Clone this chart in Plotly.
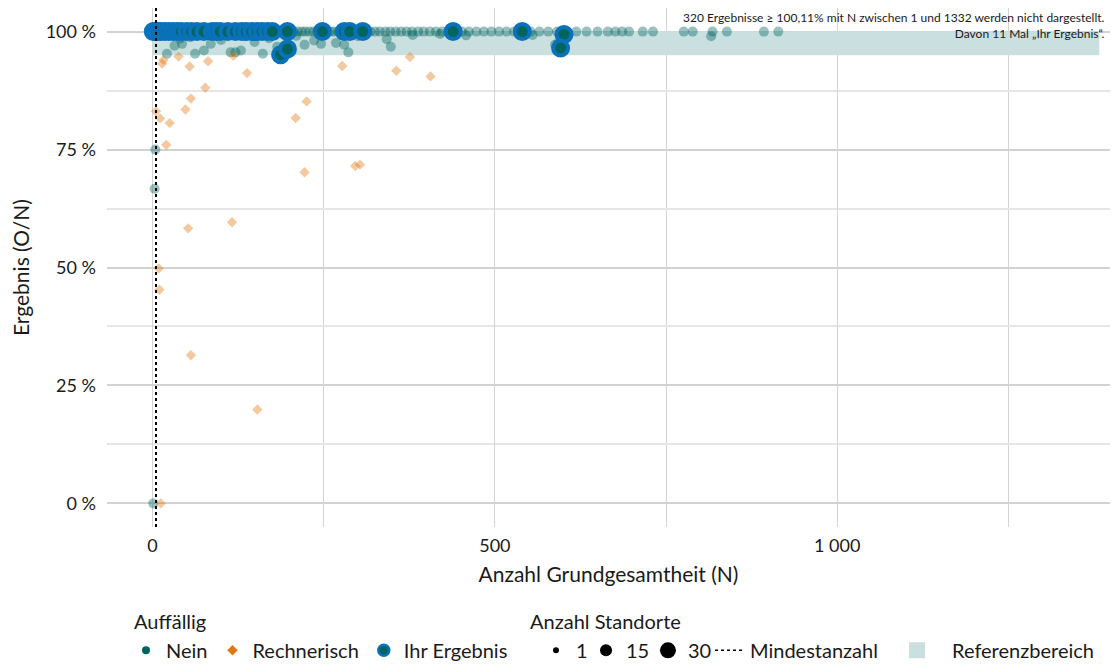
import plotly.graph_objects as go

# --- data -------------------------------------------------------------
# Standorte ohne Auffälligkeit, Ergebnis = 100 %
nein_top_n = [0, 1, 2, 3, 4, 5, 6, 8, 9, 11, 13, 14, 16, 18, 20, 22, 25, 27, 30,
              33, 35, 38, 41, 44, 47, 50, 53, 56, 60, 63, 66, 70, 73, 77, 80, 84,
              88, 91, 95, 99, 103, 107, 111, 115, 119, 124, 128, 133, 137, 142,
              146, 151, 156, 160, 165, 170, 175, 180, 185, 190, 196, 201, 206,
              212, 218, 223, 229, 235, 241, 247, 253, 259, 265, 271, 278, 284,
              291, 297, 304, 311, 318, 325, 332, 340, 347, 355, 363, 371, 379,
              388, 396, 405, 414, 423, 432, 441, 452, 462, 473, 484, 495, 506,
              517, 528, 540, 552, 565, 578, 591, 605, 619, 634, 650, 665, 676,
              686, 696, 716, 731, 776, 789, 818, 839, 893, 914]

# Standorte ohne Auffälligkeit, Ergebnis unter 100 %
nein_low_n = [21, 32, 43, 62, 75, 85, 114, 121, 129, 149, 161, 182, 222, 236,
              246, 268, 280, 286, 342, 348, 458, 555, 588, 592, 816, 40, 55, 100,
              135, 170, 210, 300, 380, 420, 4, 3, 1]
nein_low_val = [95.3, 97.0, 97.4, 95.3, 96.0, 97.4, 95.6, 95.6, 96.0, 97.8,
                95.3, 96.8, 97.2, 98.1, 97.4, 97.6, 97.2, 95.6, 98.4, 96.8,
                99.2, 99.3, 97.2, 97.5, 99.0, 98.5, 98.8, 98.2, 99.0, 98.6,
                99.1, 99.0, 99.3, 99.5, 75.0, 66.7, 0.0]

# rechnerisch auffällige Standorte
rech_n = [14, 54, 81, 138, 77, 56, 48, 5, 11, 25, 20, 225, 209, 277, 356, 406,
          222, 296, 303, 52, 116, 9, 10, 56, 153, 12, 38, 118, 376, 16]
rech_val = [93.2, 92.6, 93.7, 91.2, 88.1, 85.8, 83.5, 83.1, 81.6, 80.6, 76.0,
            85.2, 81.7, 92.7, 91.7, 90.5, 70.2, 71.5, 71.8, 58.3, 59.6, 49.8,
            45.3, 31.4, 19.9, 0.0, 94.7, 94.9, 94.6, 94.0]

# eigene Standorte ("Ihr Ergebnis")
ihr_top_n = [1, 3, 5, 8, 12, 18, 24, 30, 36, 42, 50, 57, 65, 75, 87, 93, 99,
             110, 121, 130, 137, 145, 153, 160, 168, 175, 197, 248, 280, 288,
             307, 439, 540]
ihr_low_n = [601, 596, 187, 197]
ihr_low_val = [99.4, 96.5, 95.1, 96.3]

# Referenzbereich und Mindestanzahl
ref_lo, ref_hi = 95, 100
ref_n_max = 1383
mindestanzahl = 5

size_levels = [1, 15, 30]
size_px = [6, 12, 16]

# --- colours ----------------------------------------------------------
TEAL = "#00645f"
BLUE = "#0a72ba"
ORANGE = "#e07811"
BAND = "#c9dfe0"
INK = "#1a1a1a"
FONT = "Lato"

nein_x = nein_top_n + nein_low_n
nein_y = [100] * len(nein_top_n) + nein_low_val
ihr_x = ihr_top_n + ihr_low_n
ihr_y = [100] * len(ihr_top_n) + ihr_low_val

fig = go.Figure()

# Referenzbereich band
fig.add_trace(go.Scatter(
    x=[0, ref_n_max, ref_n_max, 0, 0], y=[ref_lo, ref_lo, ref_hi, ref_hi, ref_lo],
    fill="toself", fillcolor=BAND, line=dict(width=0), mode="lines",
    hoverinfo="skip", showlegend=False))

fig.add_trace(go.Scatter(
    x=nein_x, y=nein_y, mode="markers", showlegend=False,
    marker=dict(color=TEAL, size=10, opacity=0.4, line=dict(width=0))))

fig.add_trace(go.Scatter(
    x=rech_n, y=rech_val, mode="markers", showlegend=False,
    marker=dict(color=ORANGE, symbol="diamond", size=8, opacity=0.4,
                line=dict(width=0))))

fig.add_trace(go.Scatter(
    x=ihr_x, y=ihr_y, mode="markers", showlegend=False,
    marker=dict(color=TEAL, size=15, line=dict(color=BLUE, width=4))))

# Mindestanzahl line
fig.add_shape(type="line", x0=mindestanzahl, x1=mindestanzahl, y0=0, y1=1,
              yref="paper", line=dict(color="black", width=2, dash="dot"),
              layer="above")

# --- legend entries ---------------------------------------------------
fig.add_trace(go.Scatter(x=[None], y=[None], mode="markers", name="Nein",
                         legend="legend", marker=dict(color=TEAL, size=8)))
fig.add_trace(go.Scatter(x=[None], y=[None], mode="markers", name="Rechnerisch",
                         legend="legend",
                         marker=dict(color=ORANGE, symbol="diamond", size=8)))
fig.add_trace(go.Scatter(x=[None], y=[None], mode="markers", name="Ihr Ergebnis",
                         legend="legend",
                         marker=dict(color=TEAL, size=11,
                                     line=dict(color=BLUE, width=2.5))))
size_legends = ["legend2", "legend5", "legend6"]
for lvl, px, leg in zip(size_levels, size_px, size_legends):
    fig.add_trace(go.Scatter(x=[None], y=[None], mode="markers", name=str(lvl),
                             legend=leg, marker=dict(color="black", size=px)))
fig.add_trace(go.Scatter(x=[None], y=[None], mode="lines", name="Mindestanzahl",
                         legend="legend3",
                         line=dict(color="black", width=1.5, dash="dot")))
fig.add_trace(go.Scatter(x=[None], y=[None], mode="markers",
                         name="Referenzbereich", legend="legend4",
                         marker=dict(color=BAND, symbol="square", size=27)))

legend_common = dict(orientation="h", bgcolor="rgba(0,0,0,0)",
                     font=dict(family=FONT, size=20, color=INK),
                     itemsizing="trace", itemwidth=30,
                     xref="container", yref="container",
                     yanchor="top", xanchor="left", y=0.05)

# legend group headings
for text, x in [("Auffällig", 0.025), ("Anzahl Standorte", 0.42)]:
    fig.add_annotation(text=text, xref="paper", yref="paper", x=x, y=-0.181,
                       xanchor="left", yanchor="middle", showarrow=False,
                       font=dict(family=FONT, size=20, color=INK))

fig.add_annotation(
    text="320 Ergebnisse ≥ 100,11% mit N zwischen 1 und 1332 werden nicht dargestellt.<br>"
         "Davon 11 Mal „Ihr Ergebnis“.",
    xref="paper", yref="paper", x=0.997, y=1.0, xanchor="right", yanchor="top",
    align="right", showarrow=False,
    font=dict(family=FONT, size=12, color=INK))

fig.update_layout(
    width=1112, height=664,
    margin=dict(l=107, r=2, t=8, b=137),
    paper_bgcolor="white", plot_bgcolor="white",
    font=dict(family=FONT, size=18, color=INK),
    legend=dict(legend_common, x=0.1133),
    legend2=dict(legend_common, x=0.4820),
    legend5=dict(legend_common, x=0.5270),
    legend6=dict(legend_common, x=0.5827),
    legend3=dict(legend_common, x=0.6385),
    legend4=dict(legend_common, x=0.7932, itemwidth=60),
    xaxis=dict(range=[-66.6, 1398.6], tickvals=[0, 500, 1000],
               ticktext=["0", "500", "1 000"], showgrid=True,
               gridcolor="#d4d4d4", gridwidth=1, zeroline=False,
               showline=False, ticks="", ticklabelstandoff=6,
               tickfont=dict(size=18),
               minor=dict(tickvals=[250, 750, 1250], showgrid=True,
                          gridcolor="#d4d4d4", gridwidth=1),
               title=dict(text="Anzahl Grundgesamtheit (N)",
                          font=dict(size=21), standoff=12)),
    yaxis=dict(range=[-5, 105], tickvals=[0, 25, 50, 75, 100],
               ticktext=["0 %", "25 %", "50 %", "75 %", "100 %"],
               showgrid=True, gridcolor="#d2d2d2", gridwidth=2,
               zeroline=False, showline=False, ticks="",
               ticklabelstandoff=10, tickfont=dict(size=18),
               minor=dict(tickvals=[12.5, 37.5, 62.5, 87.5], showgrid=True,
                          gridcolor="#e6e6e6", gridwidth=1.5),
               title=dict(text="Ergebnis (O/N)", font=dict(size=21),
                          standoff=10)),
)

fig.write_html("out.html")
